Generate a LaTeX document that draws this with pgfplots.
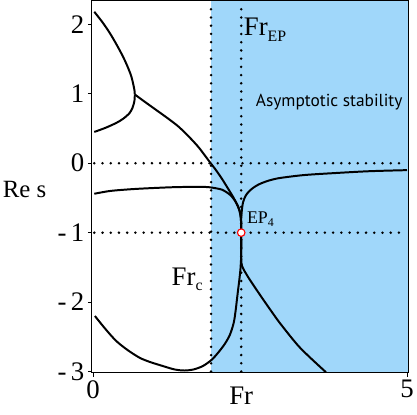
\documentclass[border=0pt]{standalone}
\usepackage{pgfplots}
\pgfplotsset{compat=1.18}
\usepackage{fontspec}
\setmainfont{Liberation Serif}
\newfontfamily\sansf{PT Sans}
\definecolor{stab}{RGB}{160,215,250}
\newcommand{\sub}[2]{\raisebox{-#2}{\fontsize{16}{16}\selectfont #1}}
\begin{document}
\begin{tikzpicture}
\begin{axis}[
 scale only axis, width=319pt, height=375pt,
 xmin=-0.02, xmax=5.02, ymin=-3.017, ymax=2.34,
 xtick={0,5}, ytick={-3,-2,-1,0,1,2},
 yticklabels={-\,3,-\,2,-\,1,0,1,2},
 tick align=outside, major tick length=4pt,
 xtick pos=bottom, ytick pos=left,
 tick style={black, line width=0.8pt},
 tick label style={font=\fontsize{27}{27}\selectfont},
 /pgf/number format/assume math mode=true,
 axis line style={line width=1pt},
 clip=false, axis on top,
]
% stability region
\addplot[fill=stab, draw=none] coordinates {(1.88,-3.017) (5.02,-3.017) (5.02,2.34) (1.88,2.34)} \closedcycle;
% dotted guide lines
\addplot[black, line width=2.8pt, dash pattern=on 0pt off 8.3pt, line cap=round] coordinates {(1.88,-3.0) (1.88,2.33)};
\addplot[black, line width=2.8pt, dash pattern=on 0pt off 8.3pt, line cap=round] coordinates {(2.36,-3.0) (2.36,2.33)};
\addplot[black, line width=2.8pt, dash pattern=on 0pt off 8.3pt, line cap=round] coordinates {(0.02,0) (5.0,0)};
\addplot[black, line width=2.8pt, dash pattern=on 0pt off 8.3pt, line cap=round] coordinates {(0.02,-1) (5.0,-1)};
% branch a (upper)
\addplot[black, line width=2pt, smooth] coordinates {(0.02,2.18) (0.15,2.03) (0.27,1.87) (0.38,1.70) (0.48,1.53) (0.56,1.37) (0.61,1.25) (0.64,1.14) (0.66,1.05) (0.665,0.99)};
% branch b (lower part of cusp)
\addplot[black, line width=2pt, smooth] coordinates {(0.665,0.99) (0.66,0.90) (0.63,0.80) (0.58,0.72) (0.48,0.64) (0.37,0.58) (0.2,0.51) (0.02,0.45)};
% from cusp down to EP and down-right
\addplot[black, line width=2pt, smooth] coordinates {(0.665,0.99) (0.8,0.90) (1.0,0.77) (1.2,0.64) (1.37,0.52) (1.55,0.36) (1.69,0.22) (1.84,0.04) (1.95,-0.09) (2.05,-0.22) (2.16,-0.38) (2.24,-0.50) (2.29,-0.59) (2.33,-0.68) (2.355,-0.8) (2.36,-1.0) (2.36,-1.3) (2.37,-1.47) (2.45,-1.61) (2.55,-1.75) (2.7,-1.95) (2.87,-2.17) (3.0,-2.33) (3.3,-2.66) (3.71,-3.01)};
% flat branch down to EP and lower loop
\addplot[black, line width=2pt, smooth] coordinates {(0.02,-0.44) (0.27,-0.40) (0.6,-0.375) (0.9,-0.36) (1.3,-0.345) (1.69,-0.34) (1.84,-0.345) (1.95,-0.36) (2.05,-0.38) (2.13,-0.42) (2.2,-0.47) (2.26,-0.54) (2.31,-0.62) (2.34,-0.70) (2.355,-0.8) (2.36,-1.0) (2.36,-1.3) (2.35,-1.5) (2.33,-1.68) (2.30,-1.9) (2.27,-2.13) (2.24,-2.3) (2.18,-2.47) (2.10,-2.6) (2.0,-2.72) (1.89,-2.83) (1.75,-2.92) (1.6,-2.97) (1.45,-2.985) (1.3,-2.97) (1.11,-2.92) (0.9,-2.86) (0.74,-2.8) (0.55,-2.69) (0.37,-2.56) (0.2,-2.39) (0.03,-2.2)};
% right upper branch
\addplot[black, line width=2pt, smooth] coordinates {(2.36,-1.0) (2.36,-0.8) (2.37,-0.68) (2.39,-0.56) (2.43,-0.47) (2.48,-0.41) (2.55,-0.355) (2.64,-0.305) (2.75,-0.265) (2.86,-0.235) (3.0,-0.21) (3.37,-0.17) (3.89,-0.14) (4.41,-0.115) (5.0,-0.10)};
% EP4 marker
\addplot[only marks, mark=*, mark size=3.8pt, mark options={fill=white, draw=red, line width=1.1pt}] coordinates {(2.36,-1)};
% labels
\node[anchor=base west, inner sep=0pt, font=\fontsize{25}{25}\selectfont] at (axis cs:-1.44,-0.49) {Re s};
\node[anchor=base west, inner sep=0pt, font=\fontsize{27}{27}\selectfont] at (axis cs:2.40,1.84) {Fr\sub{EP}{6pt}};
\node[anchor=base west, inner sep=0pt, font=\sansf\fontsize{17.5}{17.5}\selectfont] at (axis cs:2.59,0.81) {Asymptotic stability};
\node[anchor=base west, inner sep=0pt, font=\fontsize{18}{18}\selectfont] at (axis cs:2.45,-0.87) {EP\raisebox{-3pt}{\fontsize{12}{12}\selectfont 4}};
\node[anchor=base west, inner sep=0pt, font=\fontsize{27}{27}\selectfont] at (axis cs:1.25,-1.76) {Fr\sub{c}{5pt}};
\node[anchor=base, inner sep=0pt, font=\fontsize{27}{27}\selectfont] at (axis cs:2.36,-3.47) {Fr};
\end{axis}
\path (current axis.south west) ++(-92.5pt,-42pt) rectangle ++(417pt,417pt);
\end{tikzpicture}
\end{document}
